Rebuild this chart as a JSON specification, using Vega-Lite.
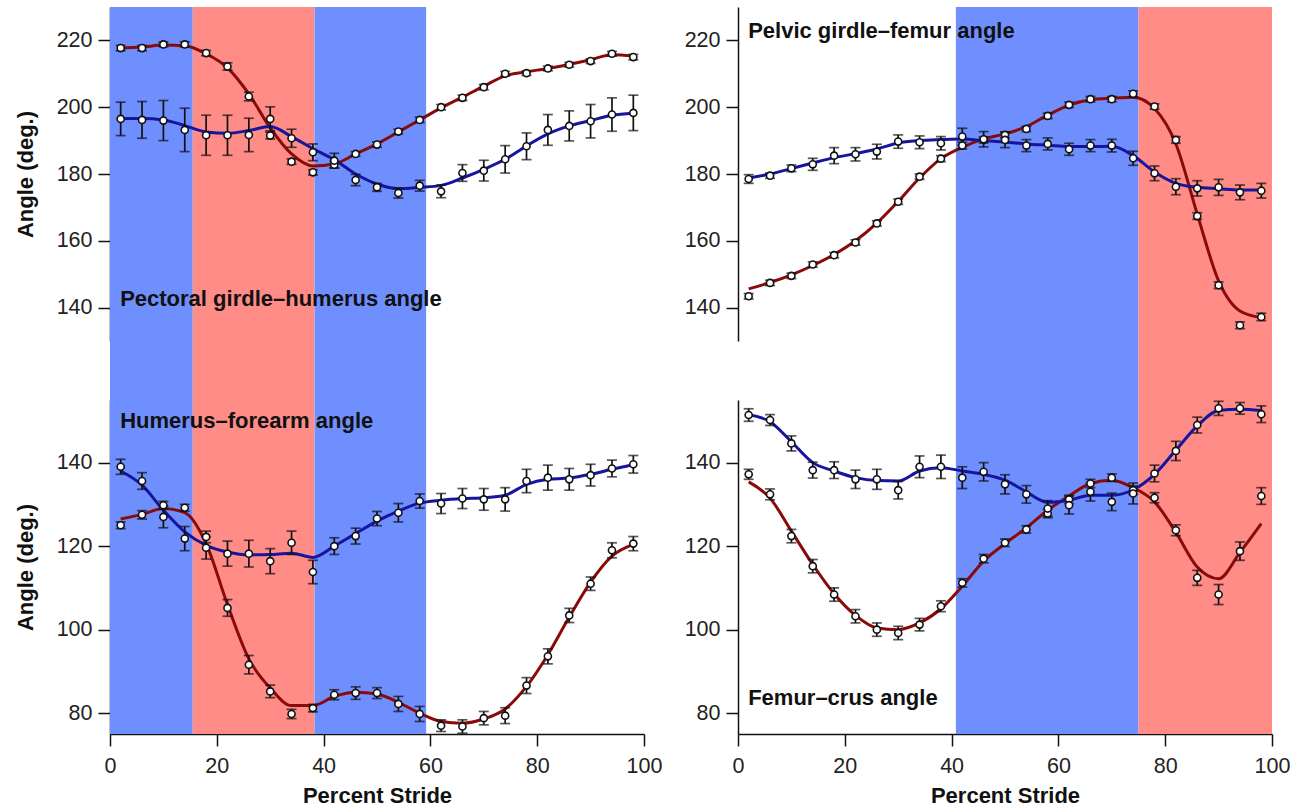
{
  "$schema": "https://vega.github.io/schema/vega-lite/v6.json",
  "background": "white",
  "padding": {"left": 14, "top": 7, "right": 8, "bottom": 0},
  "config": {
    "view": {"stroke": null},
    "font": "Liberation Sans",
    "axis": {"grid": false, "domainColor": "#111", "domainWidth": 1.5, "tickColor": "#111", "tickWidth": 1.5, "tickSize": 12, "labelFont": "Liberation Sans", "labelFontSize": 21.5, "labelColor": "#222", "titleFont": "Liberation Sans", "titleFontSize": 22, "titleFontWeight": "bold", "titleColor": "#111", "labelFlush": false},
    "axisY": {"labelPadding": 6, "titlePadding": 19},
    "axisX": {"labelPadding": 9, "titlePadding": 9}
  },
  "datasets": {
    "phases": [
      {"limb": "fore", "phase": "B", "start": 0, "end": 15.5},
      {"limb": "fore", "phase": "A", "start": 15.5, "end": 38.3},
      {"limb": "fore", "phase": "B", "start": 38.3, "end": 59.2},
      {"limb": "hind", "phase": "B", "start": 40.8, "end": 75.0},
      {"limb": "hind", "phase": "A", "start": 75.0, "end": 100}
    ],
    "labels": [
      {"panel": "PGH", "x": 1.9, "y": 140.4, "label": "Pectoral girdle–humerus angle"},
      {"panel": "PF", "x": 1.9, "y": 220.7, "label": "Pelvic girdle–femur angle"},
      {"panel": "HF", "x": 1.9, "y": 148.2, "label": "Humerus–forearm angle"},
      {"panel": "FC", "x": 1.9, "y": 82.0, "label": "Femur–crus angle"}
    ],
    "joints": [
      {"panel":"PGH","series":"A","x":2,"mean":217.7,"err":0.8,"fit":217.7},
      {"panel":"PGH","series":"A","x":6,"mean":217.7,"err":0.8,"fit":218.0},
      {"panel":"PGH","series":"A","x":10,"mean":218.8,"err":0.7,"fit":218.6},
      {"panel":"PGH","series":"A","x":14,"mean":218.8,"err":0.8,"fit":218.4},
      {"panel":"PGH","series":"A","x":18,"mean":216.2,"err":0.8,"fit":216.0},
      {"panel":"PGH","series":"A","x":22,"mean":212.2,"err":1.1,"fit":211.8},
      {"panel":"PGH","series":"A","x":26,"mean":203.2,"err":1.3,"fit":204.0},
      {"panel":"PGH","series":"A","x":30,"mean":191.5,"err":1.0,"fit":193.8},
      {"panel":"PGH","series":"A","x":34,"mean":183.7,"err":0.8,"fit":186.0},
      {"panel":"PGH","series":"A","x":38,"mean":180.5,"err":0.8,"fit":182.4},
      {"panel":"PGH","series":"A","x":42,"mean":182.8,"err":1.0,"fit":183.0},
      {"panel":"PGH","series":"A","x":46,"mean":186.0,"err":0.7,"fit":186.0},
      {"panel":"PGH","series":"A","x":50,"mean":188.8,"err":0.8,"fit":189.0},
      {"panel":"PGH","series":"A","x":54,"mean":192.7,"err":0.7,"fit":192.6},
      {"panel":"PGH","series":"A","x":58,"mean":196.2,"err":0.8,"fit":196.2},
      {"panel":"PGH","series":"A","x":62,"mean":200.0,"err":0.8,"fit":199.8},
      {"panel":"PGH","series":"A","x":66,"mean":202.8,"err":0.8,"fit":203.0},
      {"panel":"PGH","series":"A","x":70,"mean":206.0,"err":0.8,"fit":206.3},
      {"panel":"PGH","series":"A","x":74,"mean":210.0,"err":0.7,"fit":209.4},
      {"panel":"PGH","series":"A","x":78,"mean":210.2,"err":0.7,"fit":210.6},
      {"panel":"PGH","series":"A","x":82,"mean":211.6,"err":0.7,"fit":211.6},
      {"panel":"PGH","series":"A","x":86,"mean":212.7,"err":0.7,"fit":212.8},
      {"panel":"PGH","series":"A","x":90,"mean":213.8,"err":0.7,"fit":214.2},
      {"panel":"PGH","series":"A","x":94,"mean":216.0,"err":0.7,"fit":215.7},
      {"panel":"PGH","series":"A","x":98,"mean":215.0,"err":0.8,"fit":215.3},
      {"panel":"PGH","series":"B","x":2,"mean":196.5,"err":5.0,"fit":196.6},
      {"panel":"PGH","series":"B","x":6,"mean":196.2,"err":5.5,"fit":196.6},
      {"panel":"PGH","series":"B","x":10,"mean":196.0,"err":6.0,"fit":196.2},
      {"panel":"PGH","series":"B","x":14,"mean":193.2,"err":6.5,"fit":194.5},
      {"panel":"PGH","series":"B","x":18,"mean":191.6,"err":6.0,"fit":192.6},
      {"panel":"PGH","series":"B","x":22,"mean":191.6,"err":6.0,"fit":192.2},
      {"panel":"PGH","series":"B","x":26,"mean":191.7,"err":5.0,"fit":193.0},
      {"panel":"PGH","series":"B","x":30,"mean":196.5,"err":3.6,"fit":194.2},
      {"panel":"PGH","series":"B","x":34,"mean":190.7,"err":2.7,"fit":191.2},
      {"panel":"PGH","series":"B","x":38,"mean":186.5,"err":2.5,"fit":187.6},
      {"panel":"PGH","series":"B","x":42,"mean":184.0,"err":2.2,"fit":184.3},
      {"panel":"PGH","series":"B","x":46,"mean":178.2,"err":1.7,"fit":180.0},
      {"panel":"PGH","series":"B","x":50,"mean":176.0,"err":1.2,"fit":177.0},
      {"panel":"PGH","series":"B","x":54,"mean":174.3,"err":1.5,"fit":175.6},
      {"panel":"PGH","series":"B","x":58,"mean":176.5,"err":1.6,"fit":176.0},
      {"panel":"PGH","series":"B","x":62,"mean":174.8,"err":1.9,"fit":176.6},
      {"panel":"PGH","series":"B","x":66,"mean":180.3,"err":2.5,"fit":178.8},
      {"panel":"PGH","series":"B","x":70,"mean":181.0,"err":3.1,"fit":181.4},
      {"panel":"PGH","series":"B","x":74,"mean":184.4,"err":4.1,"fit":184.4},
      {"panel":"PGH","series":"B","x":78,"mean":188.3,"err":4.0,"fit":188.4},
      {"panel":"PGH","series":"B","x":82,"mean":193.2,"err":4.6,"fit":192.0},
      {"panel":"PGH","series":"B","x":86,"mean":194.4,"err":4.5,"fit":194.4},
      {"panel":"PGH","series":"B","x":90,"mean":195.8,"err":5.0,"fit":196.0},
      {"panel":"PGH","series":"B","x":94,"mean":197.8,"err":5.0,"fit":197.6},
      {"panel":"PGH","series":"B","x":98,"mean":198.3,"err":5.3,"fit":198.2},

      {"panel":"HF","series":"A","x":2,"mean":125.0,"err":0.8,"fit":126.5},
      {"panel":"HF","series":"A","x":6,"mean":127.5,"err":1.0,"fit":127.6},
      {"panel":"HF","series":"A","x":10,"mean":129.8,"err":0.9,"fit":129.0},
      {"panel":"HF","series":"A","x":14,"mean":129.2,"err":0.8,"fit":128.0},
      {"panel":"HF","series":"A","x":18,"mean":122.2,"err":1.4,"fit":120.6},
      {"panel":"HF","series":"A","x":22,"mean":105.2,"err":2.0,"fit":106.0},
      {"panel":"HF","series":"A","x":26,"mean":91.6,"err":2.2,"fit":93.0},
      {"panel":"HF","series":"A","x":30,"mean":85.2,"err":1.5,"fit":86.0},
      {"panel":"HF","series":"A","x":34,"mean":79.8,"err":1.1,"fit":81.8},
      {"panel":"HF","series":"A","x":38,"mean":81.2,"err":0.9,"fit":81.8},
      {"panel":"HF","series":"A","x":42,"mean":84.4,"err":1.2,"fit":84.0},
      {"panel":"HF","series":"A","x":46,"mean":84.8,"err":1.5,"fit":85.0},
      {"panel":"HF","series":"A","x":50,"mean":84.8,"err":1.3,"fit":84.6},
      {"panel":"HF","series":"A","x":54,"mean":82.2,"err":1.8,"fit":82.6},
      {"panel":"HF","series":"A","x":58,"mean":79.8,"err":1.8,"fit":80.0},
      {"panel":"HF","series":"A","x":62,"mean":77.0,"err":1.4,"fit":78.0},
      {"panel":"HF","series":"A","x":66,"mean":76.8,"err":1.6,"fit":77.6},
      {"panel":"HF","series":"A","x":70,"mean":78.8,"err":1.6,"fit":78.6},
      {"panel":"HF","series":"A","x":74,"mean":79.4,"err":1.9,"fit":81.0},
      {"panel":"HF","series":"A","x":78,"mean":86.6,"err":1.9,"fit":86.4},
      {"panel":"HF","series":"A","x":82,"mean":93.6,"err":1.8,"fit":94.0},
      {"panel":"HF","series":"A","x":86,"mean":103.4,"err":1.7,"fit":103.0},
      {"panel":"HF","series":"A","x":90,"mean":111.0,"err":1.6,"fit":111.4},
      {"panel":"HF","series":"A","x":94,"mean":119.0,"err":1.8,"fit":117.6},
      {"panel":"HF","series":"A","x":98,"mean":120.6,"err":1.7,"fit":120.4},
      {"panel":"HF","series":"B","x":2,"mean":139.0,"err":1.8,"fit":138.0},
      {"panel":"HF","series":"B","x":6,"mean":135.6,"err":2.0,"fit":134.6},
      {"panel":"HF","series":"B","x":10,"mean":127.0,"err":2.6,"fit":128.6},
      {"panel":"HF","series":"B","x":14,"mean":121.8,"err":2.9,"fit":123.4},
      {"panel":"HF","series":"B","x":18,"mean":119.6,"err":2.7,"fit":120.2},
      {"panel":"HF","series":"B","x":22,"mean":118.2,"err":3.0,"fit":118.6},
      {"panel":"HF","series":"B","x":26,"mean":118.2,"err":3.2,"fit":117.9},
      {"panel":"HF","series":"B","x":30,"mean":116.4,"err":3.0,"fit":118.0},
      {"panel":"HF","series":"B","x":34,"mean":120.8,"err":2.8,"fit":118.3},
      {"panel":"HF","series":"B","x":38,"mean":113.8,"err":2.8,"fit":117.3},
      {"panel":"HF","series":"B","x":42,"mean":120.0,"err":2.0,"fit":120.0},
      {"panel":"HF","series":"B","x":46,"mean":122.4,"err":1.9,"fit":123.0},
      {"panel":"HF","series":"B","x":50,"mean":126.6,"err":1.7,"fit":126.0},
      {"panel":"HF","series":"B","x":54,"mean":128.0,"err":2.2,"fit":128.4},
      {"panel":"HF","series":"B","x":58,"mean":130.8,"err":1.7,"fit":130.3},
      {"panel":"HF","series":"B","x":62,"mean":130.2,"err":2.4,"fit":131.0},
      {"panel":"HF","series":"B","x":66,"mean":131.4,"err":2.4,"fit":131.4},
      {"panel":"HF","series":"B","x":70,"mean":131.2,"err":2.6,"fit":131.6},
      {"panel":"HF","series":"B","x":74,"mean":131.2,"err":2.8,"fit":132.2},
      {"panel":"HF","series":"B","x":78,"mean":135.6,"err":2.8,"fit":134.8},
      {"panel":"HF","series":"B","x":82,"mean":136.4,"err":3.0,"fit":136.0},
      {"panel":"HF","series":"B","x":86,"mean":136.0,"err":2.6,"fit":136.3},
      {"panel":"HF","series":"B","x":90,"mean":137.0,"err":2.6,"fit":137.2},
      {"panel":"HF","series":"B","x":94,"mean":138.6,"err":2.0,"fit":138.4},
      {"panel":"HF","series":"B","x":98,"mean":139.6,"err":2.1,"fit":139.5},

      {"panel":"PF","series":"A","x":2,"mean":143.4,"err":0.8,"fit":145.6},
      {"panel":"PF","series":"A","x":6,"mean":147.4,"err":0.8,"fit":147.5},
      {"panel":"PF","series":"A","x":10,"mean":149.5,"err":0.8,"fit":149.8},
      {"panel":"PF","series":"A","x":14,"mean":152.9,"err":0.8,"fit":152.6},
      {"panel":"PF","series":"A","x":18,"mean":155.7,"err":0.8,"fit":155.9},
      {"panel":"PF","series":"A","x":22,"mean":159.5,"err":0.8,"fit":160.0},
      {"panel":"PF","series":"A","x":26,"mean":165.2,"err":0.8,"fit":165.3},
      {"panel":"PF","series":"A","x":30,"mean":171.7,"err":0.8,"fit":171.8},
      {"panel":"PF","series":"A","x":34,"mean":179.2,"err":0.8,"fit":178.8},
      {"panel":"PF","series":"A","x":38,"mean":184.6,"err":0.9,"fit":184.6},
      {"panel":"PF","series":"A","x":42,"mean":188.5,"err":1.0,"fit":188.0},
      {"panel":"PF","series":"A","x":46,"mean":190.2,"err":0.9,"fit":190.5},
      {"panel":"PF","series":"A","x":50,"mean":191.7,"err":0.9,"fit":192.0},
      {"panel":"PF","series":"A","x":54,"mean":193.5,"err":0.8,"fit":194.2},
      {"panel":"PF","series":"A","x":58,"mean":197.4,"err":0.8,"fit":197.6},
      {"panel":"PF","series":"A","x":62,"mean":200.7,"err":0.8,"fit":200.6},
      {"panel":"PF","series":"A","x":66,"mean":202.4,"err":0.8,"fit":202.2},
      {"panel":"PF","series":"A","x":70,"mean":202.4,"err":0.8,"fit":202.7},
      {"panel":"PF","series":"A","x":74,"mean":204.0,"err":0.9,"fit":203.0},
      {"panel":"PF","series":"A","x":78,"mean":200.2,"err":0.8,"fit":199.6},
      {"panel":"PF","series":"A","x":82,"mean":190.2,"err":1.0,"fit":189.0},
      {"panel":"PF","series":"A","x":86,"mean":167.4,"err":1.0,"fit":168.0},
      {"panel":"PF","series":"A","x":90,"mean":146.7,"err":1.0,"fit":148.0},
      {"panel":"PF","series":"A","x":94,"mean":134.7,"err":1.0,"fit":139.0},
      {"panel":"PF","series":"A","x":98,"mean":137.2,"err":1.1,"fit":137.0},
      {"panel":"PF","series":"B","x":2,"mean":178.5,"err":1.3,"fit":178.8},
      {"panel":"PF","series":"B","x":6,"mean":179.5,"err":0.8,"fit":180.0},
      {"panel":"PF","series":"B","x":10,"mean":181.7,"err":1.0,"fit":181.6},
      {"panel":"PF","series":"B","x":14,"mean":182.9,"err":1.8,"fit":183.3},
      {"panel":"PF","series":"B","x":18,"mean":185.5,"err":2.4,"fit":184.9},
      {"panel":"PF","series":"B","x":22,"mean":185.9,"err":2.0,"fit":186.1},
      {"panel":"PF","series":"B","x":26,"mean":186.7,"err":2.2,"fit":187.5},
      {"panel":"PF","series":"B","x":30,"mean":189.7,"err":2.0,"fit":189.3},
      {"panel":"PF","series":"B","x":34,"mean":189.5,"err":1.9,"fit":190.0},
      {"panel":"PF","series":"B","x":38,"mean":189.2,"err":2.0,"fit":190.3},
      {"panel":"PF","series":"B","x":42,"mean":191.2,"err":2.5,"fit":190.5},
      {"panel":"PF","series":"B","x":46,"mean":190.4,"err":2.3,"fit":190.0},
      {"panel":"PF","series":"B","x":50,"mean":190.2,"err":2.3,"fit":189.6},
      {"panel":"PF","series":"B","x":54,"mean":188.5,"err":1.8,"fit":189.0},
      {"panel":"PF","series":"B","x":58,"mean":189.0,"err":1.8,"fit":188.6},
      {"panel":"PF","series":"B","x":62,"mean":187.4,"err":1.8,"fit":188.2},
      {"panel":"PF","series":"B","x":66,"mean":188.5,"err":1.8,"fit":188.2},
      {"panel":"PF","series":"B","x":70,"mean":188.5,"err":1.9,"fit":188.3},
      {"panel":"PF","series":"B","x":74,"mean":184.7,"err":2.1,"fit":185.5},
      {"panel":"PF","series":"B","x":78,"mean":180.2,"err":2.2,"fit":180.6},
      {"panel":"PF","series":"B","x":82,"mean":176.2,"err":2.4,"fit":177.2},
      {"panel":"PF","series":"B","x":86,"mean":175.7,"err":2.3,"fit":176.0},
      {"panel":"PF","series":"B","x":90,"mean":176.0,"err":2.4,"fit":175.6},
      {"panel":"PF","series":"B","x":94,"mean":174.5,"err":2.2,"fit":175.2},
      {"panel":"PF","series":"B","x":98,"mean":175.0,"err":2.2,"fit":175.2},

      {"panel":"FC","series":"A","x":2,"mean":137.2,"err":1.2,"fit":135.4},
      {"panel":"FC","series":"A","x":6,"mean":132.4,"err":1.3,"fit":131.5},
      {"panel":"FC","series":"A","x":10,"mean":122.4,"err":1.6,"fit":123.6},
      {"panel":"FC","series":"A","x":14,"mean":115.2,"err":1.6,"fit":115.6},
      {"panel":"FC","series":"A","x":18,"mean":108.4,"err":1.6,"fit":108.6},
      {"panel":"FC","series":"A","x":22,"mean":103.2,"err":1.6,"fit":103.4},
      {"panel":"FC","series":"A","x":26,"mean":100.0,"err":1.6,"fit":100.4},
      {"panel":"FC","series":"A","x":30,"mean":99.2,"err":1.6,"fit":100.0},
      {"panel":"FC","series":"A","x":34,"mean":101.2,"err":1.5,"fit":101.6},
      {"panel":"FC","series":"A","x":38,"mean":105.6,"err":1.3,"fit":105.0},
      {"panel":"FC","series":"A","x":42,"mean":111.2,"err":1.0,"fit":110.4},
      {"panel":"FC","series":"A","x":46,"mean":117.0,"err":1.0,"fit":116.4},
      {"panel":"FC","series":"A","x":50,"mean":120.8,"err":0.9,"fit":120.6},
      {"panel":"FC","series":"A","x":54,"mean":124.0,"err":0.9,"fit":124.4},
      {"panel":"FC","series":"A","x":58,"mean":127.8,"err":1.0,"fit":128.6},
      {"panel":"FC","series":"A","x":62,"mean":131.2,"err":1.0,"fit":132.0},
      {"panel":"FC","series":"A","x":66,"mean":135.0,"err":1.0,"fit":135.0},
      {"panel":"FC","series":"A","x":70,"mean":136.4,"err":0.9,"fit":135.8},
      {"panel":"FC","series":"A","x":74,"mean":133.4,"err":1.0,"fit":134.0},
      {"panel":"FC","series":"A","x":78,"mean":131.6,"err":1.2,"fit":130.6},
      {"panel":"FC","series":"A","x":82,"mean":123.8,"err":1.3,"fit":123.3},
      {"panel":"FC","series":"A","x":86,"mean":112.4,"err":1.8,"fit":115.0},
      {"panel":"FC","series":"A","x":90,"mean":108.4,"err":2.4,"fit":112.2},
      {"panel":"FC","series":"A","x":94,"mean":118.8,"err":2.2,"fit":118.5},
      {"panel":"FC","series":"A","x":98,"mean":132.0,"err":2.0,"fit":125.4},
      {"panel":"FC","series":"B","x":2,"mean":151.4,"err":1.5,"fit":151.5},
      {"panel":"FC","series":"B","x":6,"mean":150.2,"err":1.3,"fit":149.8},
      {"panel":"FC","series":"B","x":10,"mean":144.6,"err":1.8,"fit":145.0},
      {"panel":"FC","series":"B","x":14,"mean":138.2,"err":1.9,"fit":140.0},
      {"panel":"FC","series":"B","x":18,"mean":138.2,"err":2.0,"fit":138.0},
      {"panel":"FC","series":"B","x":22,"mean":136.0,"err":2.2,"fit":136.4},
      {"panel":"FC","series":"B","x":26,"mean":136.0,"err":2.4,"fit":135.7},
      {"panel":"FC","series":"B","x":30,"mean":133.4,"err":2.1,"fit":135.6},
      {"panel":"FC","series":"B","x":34,"mean":139.0,"err":2.6,"fit":138.0},
      {"panel":"FC","series":"B","x":38,"mean":139.0,"err":2.8,"fit":138.8},
      {"panel":"FC","series":"B","x":42,"mean":136.4,"err":2.6,"fit":138.0},
      {"panel":"FC","series":"B","x":46,"mean":137.8,"err":2.2,"fit":137.2},
      {"panel":"FC","series":"B","x":50,"mean":134.8,"err":2.3,"fit":135.8},
      {"panel":"FC","series":"B","x":54,"mean":132.4,"err":2.1,"fit":133.0},
      {"panel":"FC","series":"B","x":58,"mean":129.0,"err":1.9,"fit":130.5},
      {"panel":"FC","series":"B","x":62,"mean":129.8,"err":2.1,"fit":131.0},
      {"panel":"FC","series":"B","x":66,"mean":133.0,"err":2.2,"fit":132.2},
      {"panel":"FC","series":"B","x":70,"mean":130.6,"err":2.1,"fit":132.2},
      {"panel":"FC","series":"B","x":74,"mean":132.6,"err":2.5,"fit":133.5},
      {"panel":"FC","series":"B","x":78,"mean":137.4,"err":2.0,"fit":137.2},
      {"panel":"FC","series":"B","x":82,"mean":142.8,"err":2.3,"fit":143.0},
      {"panel":"FC","series":"B","x":86,"mean":149.0,"err":1.9,"fit":148.8},
      {"panel":"FC","series":"B","x":90,"mean":153.0,"err":1.7,"fit":152.5},
      {"panel":"FC","series":"B","x":94,"mean":153.0,"err":1.4,"fit":152.8},
      {"panel":"FC","series":"B","x":98,"mean":151.6,"err":2.0,"fit":152.5}
    ]
  },
  "columns": 2,
  "spacing": {"row": 59, "column": 94},
  "bounds": "flush",
  "concat": [
    {
      "width": 534, "height": 334,
      "layer": [
        {"data": {"name": "phases"}, "transform": [{"filter": "datum.limb == 'fore'"}],
         "mark": {"type": "rect"},
         "encoding": {
           "x": {"field": "start", "type": "quantitative", "scale": {"domain": [0, 100], "nice": false}, "axis": null},
           "x2": {"field": "end"},
           "y": {"datum": 230, "type": "quantitative", "scale": {"domain": [130, 230], "nice": false, "zero": false}, "axis": {"title": "Angle (deg.)", "values": [140, 160, 180, 200, 220]}},
           "y2": {"datum": 112.3},
           "fill": {"field": "phase", "type": "nominal", "scale": {"domain": ["A", "B"], "range": ["#FF8C87", "#6F8FFF"]}, "legend": null}
         }},
        {"data": {"name": "joints"}, "transform": [{"filter": "datum.panel == 'PGH'"}],
         "mark": {"type": "line", "interpolate": "monotone", "strokeWidth": 3},
         "encoding": {
           "x": {"field": "x", "type": "quantitative", "scale": {"domain": [0, 100], "nice": false}, "axis": null},
           "y": {"field": "fit", "type": "quantitative", "scale": {"domain": [130, 230], "nice": false, "zero": false}, "axis": {"title": "Angle (deg.)", "values": [140, 160, 180, 200, 220]}},
           "stroke": {"field": "series", "type": "nominal", "scale": {"domain": ["A", "B"], "range": ["#8A0A0A", "#15159E"]}, "legend": null}
         }},
        {"data": {"name": "joints"}, "transform": [{"filter": "datum.panel == 'PGH'"}],
         "mark": {"type": "errorbar", "ticks": {"size": 10}, "thickness": 1.7, "color": "#111"},
         "encoding": {
           "x": {"field": "x", "type": "quantitative", "scale": {"domain": [0, 100], "nice": false}, "axis": null},
           "y": {"field": "mean", "type": "quantitative", "scale": {"domain": [130, 230], "nice": false, "zero": false}, "axis": {"title": "Angle (deg.)", "values": [140, 160, 180, 200, 220]}},
           "yError": {"field": "err"},
           "detail": {"field": "series"}
         }},
        {"data": {"name": "joints"}, "transform": [{"filter": "datum.panel == 'PGH'"}],
         "mark": {"type": "point", "shape": "circle", "filled": true, "fill": "white", "stroke": "#111", "strokeWidth": 1.6, "size": 50, "opacity": 1},
         "encoding": {
           "x": {"field": "x", "type": "quantitative", "scale": {"domain": [0, 100], "nice": false}, "axis": null},
           "y": {"field": "mean", "type": "quantitative", "scale": {"domain": [130, 230], "nice": false, "zero": false}, "axis": {"title": "Angle (deg.)", "values": [140, 160, 180, 200, 220]}}
         }},
        {"data": {"name": "labels"}, "transform": [{"filter": "datum.panel == 'PGH'"}],
         "mark": {"type": "text", "align": "left", "baseline": "alphabetic", "fontSize": 22, "fontWeight": "bold", "font": "Liberation Sans", "color": "#111"},
         "encoding": {
           "x": {"field": "x", "type": "quantitative", "scale": {"domain": [0, 100], "nice": false}, "axis": null},
           "y": {"field": "y", "type": "quantitative", "scale": {"domain": [130, 230], "nice": false, "zero": false}, "axis": {"title": "Angle (deg.)", "values": [140, 160, 180, 200, 220]}},
           "text": {"field": "label"}
         }}
      ]
    },
    {
      "width": 534, "height": 334,
      "layer": [
        {"data": {"name": "phases"}, "transform": [{"filter": "datum.limb == 'hind'"}],
         "mark": {"type": "rect"},
         "encoding": {
           "x": {"field": "start", "type": "quantitative", "scale": {"domain": [0, 100], "nice": false}, "axis": null},
           "x2": {"field": "end"},
           "y": {"datum": 230, "type": "quantitative", "scale": {"domain": [130, 230], "nice": false, "zero": false}, "axis": {"title": null, "values": [140, 160, 180, 200, 220]}},
           "y2": {"datum": 112.3},
           "fill": {"field": "phase", "type": "nominal", "scale": {"domain": ["A", "B"], "range": ["#FF8C87", "#6F8FFF"]}, "legend": null}
         }},
        {"data": {"name": "joints"}, "transform": [{"filter": "datum.panel == 'PF'"}],
         "mark": {"type": "line", "interpolate": "monotone", "strokeWidth": 3},
         "encoding": {
           "x": {"field": "x", "type": "quantitative", "scale": {"domain": [0, 100], "nice": false}, "axis": null},
           "y": {"field": "fit", "type": "quantitative", "scale": {"domain": [130, 230], "nice": false, "zero": false}, "axis": {"title": null, "values": [140, 160, 180, 200, 220]}},
           "stroke": {"field": "series", "type": "nominal", "scale": {"domain": ["A", "B"], "range": ["#8A0A0A", "#15159E"]}, "legend": null}
         }},
        {"data": {"name": "joints"}, "transform": [{"filter": "datum.panel == 'PF'"}],
         "mark": {"type": "errorbar", "ticks": {"size": 10}, "thickness": 1.7, "color": "#111"},
         "encoding": {
           "x": {"field": "x", "type": "quantitative", "scale": {"domain": [0, 100], "nice": false}, "axis": null},
           "y": {"field": "mean", "type": "quantitative", "scale": {"domain": [130, 230], "nice": false, "zero": false}, "axis": {"title": null, "values": [140, 160, 180, 200, 220]}},
           "yError": {"field": "err"},
           "detail": {"field": "series"}
         }},
        {"data": {"name": "joints"}, "transform": [{"filter": "datum.panel == 'PF'"}],
         "mark": {"type": "point", "shape": "circle", "filled": true, "fill": "white", "stroke": "#111", "strokeWidth": 1.6, "size": 50, "opacity": 1},
         "encoding": {
           "x": {"field": "x", "type": "quantitative", "scale": {"domain": [0, 100], "nice": false}, "axis": null},
           "y": {"field": "mean", "type": "quantitative", "scale": {"domain": [130, 230], "nice": false, "zero": false}, "axis": {"title": null, "values": [140, 160, 180, 200, 220]}}
         }},
        {"data": {"name": "labels"}, "transform": [{"filter": "datum.panel == 'PF'"}],
         "mark": {"type": "text", "align": "left", "baseline": "alphabetic", "fontSize": 22, "fontWeight": "bold", "font": "Liberation Sans", "color": "#111"},
         "encoding": {
           "x": {"field": "x", "type": "quantitative", "scale": {"domain": [0, 100], "nice": false}, "axis": null},
           "y": {"field": "y", "type": "quantitative", "scale": {"domain": [130, 230], "nice": false, "zero": false}, "axis": {"title": null, "values": [140, 160, 180, 200, 220]}},
           "text": {"field": "label"}
         }}
      ]
    },
    {
      "width": 534, "height": 334,
      "layer": [
        {"data": {"name": "phases"}, "transform": [{"filter": "datum.limb == 'fore'"}],
         "mark": {"type": "rect"},
         "encoding": {
           "x": {"field": "start", "type": "quantitative", "scale": {"domain": [0, 100], "nice": false}, "axis": {"title": "Percent Stride", "values": [0, 20, 40, 60, 80, 100]}},
           "x2": {"field": "end"},
           "y": {"datum": 155, "type": "quantitative", "scale": {"domain": [75, 155], "nice": false, "zero": false}, "axis": {"title": "Angle (deg.)", "values": [80, 100, 120, 140]}},
           "y2": {"datum": 75},
           "fill": {"field": "phase", "type": "nominal", "scale": {"domain": ["A", "B"], "range": ["#FF8C87", "#6F8FFF"]}, "legend": null}
         }},
        {"data": {"name": "joints"}, "transform": [{"filter": "datum.panel == 'HF'"}],
         "mark": {"type": "line", "interpolate": "monotone", "strokeWidth": 3},
         "encoding": {
           "x": {"field": "x", "type": "quantitative", "scale": {"domain": [0, 100], "nice": false}, "axis": {"title": "Percent Stride", "values": [0, 20, 40, 60, 80, 100]}},
           "y": {"field": "fit", "type": "quantitative", "scale": {"domain": [75, 155], "nice": false, "zero": false}, "axis": {"title": "Angle (deg.)", "values": [80, 100, 120, 140]}},
           "stroke": {"field": "series", "type": "nominal", "scale": {"domain": ["A", "B"], "range": ["#8A0A0A", "#15159E"]}, "legend": null}
         }},
        {"data": {"name": "joints"}, "transform": [{"filter": "datum.panel == 'HF'"}],
         "mark": {"type": "errorbar", "ticks": {"size": 10}, "thickness": 1.7, "color": "#111"},
         "encoding": {
           "x": {"field": "x", "type": "quantitative", "scale": {"domain": [0, 100], "nice": false}, "axis": {"title": "Percent Stride", "values": [0, 20, 40, 60, 80, 100]}},
           "y": {"field": "mean", "type": "quantitative", "scale": {"domain": [75, 155], "nice": false, "zero": false}, "axis": {"title": "Angle (deg.)", "values": [80, 100, 120, 140]}},
           "yError": {"field": "err"},
           "detail": {"field": "series"}
         }},
        {"data": {"name": "joints"}, "transform": [{"filter": "datum.panel == 'HF'"}],
         "mark": {"type": "point", "shape": "circle", "filled": true, "fill": "white", "stroke": "#111", "strokeWidth": 1.6, "size": 50, "opacity": 1},
         "encoding": {
           "x": {"field": "x", "type": "quantitative", "scale": {"domain": [0, 100], "nice": false}, "axis": {"title": "Percent Stride", "values": [0, 20, 40, 60, 80, 100]}},
           "y": {"field": "mean", "type": "quantitative", "scale": {"domain": [75, 155], "nice": false, "zero": false}, "axis": {"title": "Angle (deg.)", "values": [80, 100, 120, 140]}}
         }},
        {"data": {"name": "labels"}, "transform": [{"filter": "datum.panel == 'HF'"}],
         "mark": {"type": "text", "align": "left", "baseline": "alphabetic", "fontSize": 22, "fontWeight": "bold", "font": "Liberation Sans", "color": "#111"},
         "encoding": {
           "x": {"field": "x", "type": "quantitative", "scale": {"domain": [0, 100], "nice": false}, "axis": {"title": "Percent Stride", "values": [0, 20, 40, 60, 80, 100]}},
           "y": {"field": "y", "type": "quantitative", "scale": {"domain": [75, 155], "nice": false, "zero": false}, "axis": {"title": "Angle (deg.)", "values": [80, 100, 120, 140]}},
           "text": {"field": "label"}
         }}
      ]
    },
    {
      "width": 534, "height": 334,
      "layer": [
        {"data": {"name": "phases"}, "transform": [{"filter": "datum.limb == 'hind'"}],
         "mark": {"type": "rect"},
         "encoding": {
           "x": {"field": "start", "type": "quantitative", "scale": {"domain": [0, 100], "nice": false}, "axis": {"title": "Percent Stride", "values": [0, 20, 40, 60, 80, 100]}},
           "x2": {"field": "end"},
           "y": {"datum": 155, "type": "quantitative", "scale": {"domain": [75, 155], "nice": false, "zero": false}, "axis": {"title": null, "values": [80, 100, 120, 140]}},
           "y2": {"datum": 75},
           "fill": {"field": "phase", "type": "nominal", "scale": {"domain": ["A", "B"], "range": ["#FF8C87", "#6F8FFF"]}, "legend": null}
         }},
        {"data": {"name": "joints"}, "transform": [{"filter": "datum.panel == 'FC'"}],
         "mark": {"type": "line", "interpolate": "monotone", "strokeWidth": 3},
         "encoding": {
           "x": {"field": "x", "type": "quantitative", "scale": {"domain": [0, 100], "nice": false}, "axis": {"title": "Percent Stride", "values": [0, 20, 40, 60, 80, 100]}},
           "y": {"field": "fit", "type": "quantitative", "scale": {"domain": [75, 155], "nice": false, "zero": false}, "axis": {"title": null, "values": [80, 100, 120, 140]}},
           "stroke": {"field": "series", "type": "nominal", "scale": {"domain": ["A", "B"], "range": ["#8A0A0A", "#15159E"]}, "legend": null}
         }},
        {"data": {"name": "joints"}, "transform": [{"filter": "datum.panel == 'FC'"}],
         "mark": {"type": "errorbar", "ticks": {"size": 10}, "thickness": 1.7, "color": "#111"},
         "encoding": {
           "x": {"field": "x", "type": "quantitative", "scale": {"domain": [0, 100], "nice": false}, "axis": {"title": "Percent Stride", "values": [0, 20, 40, 60, 80, 100]}},
           "y": {"field": "mean", "type": "quantitative", "scale": {"domain": [75, 155], "nice": false, "zero": false}, "axis": {"title": null, "values": [80, 100, 120, 140]}},
           "yError": {"field": "err"},
           "detail": {"field": "series"}
         }},
        {"data": {"name": "joints"}, "transform": [{"filter": "datum.panel == 'FC'"}],
         "mark": {"type": "point", "shape": "circle", "filled": true, "fill": "white", "stroke": "#111", "strokeWidth": 1.6, "size": 50, "opacity": 1},
         "encoding": {
           "x": {"field": "x", "type": "quantitative", "scale": {"domain": [0, 100], "nice": false}, "axis": {"title": "Percent Stride", "values": [0, 20, 40, 60, 80, 100]}},
           "y": {"field": "mean", "type": "quantitative", "scale": {"domain": [75, 155], "nice": false, "zero": false}, "axis": {"title": null, "values": [80, 100, 120, 140]}}
         }},
        {"data": {"name": "labels"}, "transform": [{"filter": "datum.panel == 'FC'"}],
         "mark": {"type": "text", "align": "left", "baseline": "alphabetic", "fontSize": 22, "fontWeight": "bold", "font": "Liberation Sans", "color": "#111"},
         "encoding": {
           "x": {"field": "x", "type": "quantitative", "scale": {"domain": [0, 100], "nice": false}, "axis": {"title": "Percent Stride", "values": [0, 20, 40, 60, 80, 100]}},
           "y": {"field": "y", "type": "quantitative", "scale": {"domain": [75, 155], "nice": false, "zero": false}, "axis": {"title": null, "values": [80, 100, 120, 140]}},
           "text": {"field": "label"}
         }}
      ]
    }
  ]
}
